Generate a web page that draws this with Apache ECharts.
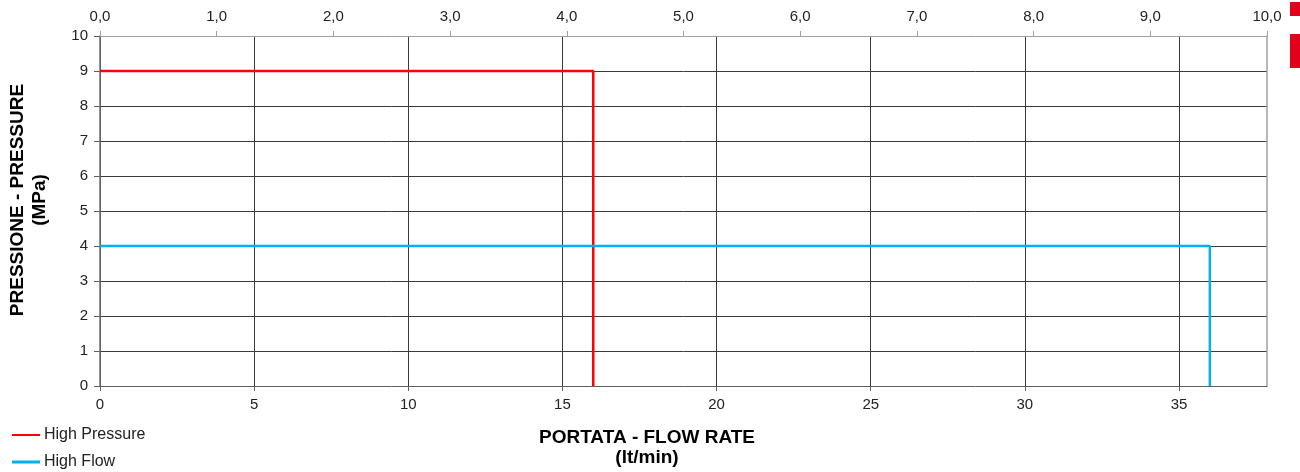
<!DOCTYPE html>
<html>
<head>
<meta charset="utf-8">
<script src="https://cdn.jsdelivr.net/npm/echarts@6/dist/echarts.min.js"></script>
<style>html,body{margin:0;padding:0;background:#fff;}#c{width:1300px;height:472px;}</style>
</head>
<body>
<div id="c"></div>
<script>
var seriesNames = ['High Pressure', 'High Flow'];
var highPressure = [[0, 9], [16, 9], [16, 0]];
var highFlow = [[0, 4], [36, 4], [36, 0]];
var flowMax = 37.854;       // 10 US gal/min in l/min
var galMax = 10;
var yTicks = [0,1,2,3,4,5,6,7,8,9,10];

var chart = echarts.init(document.getElementById('c'));
var font = 'Liberation Sans, Arial, sans-serif';
chart.setOption({
  animation: false,
  textStyle: { fontFamily: font },
  grid: { left: 100, right: 33, top: 36, bottom: 86, containLabel: false, outerBoundsMode: 'none' },
  title: {
    text: 'PORTATA - FLOW RATE\n(lt/min)',
    left: 642, top: 423,
    textAlign: 'center',
    textStyle: { fontFamily: font, fontSize: 19, fontWeight: 'bold', color: '#000', lineHeight: 20 }
  },
  legend: [
    {
      left: 12, top: 426, padding: 0,
      itemWidth: 28, itemHeight: 2, icon: 'rect', itemGap: 0,
      textStyle: { fontFamily: font, fontSize: 16, color: '#222', lineHeight: 18, padding: [0,0,0,-1] },
      data: [seriesNames[0]]
    },
    {
      left: 12, top: 453, padding: 0,
      itemWidth: 28, itemHeight: 3, icon: 'rect', itemGap: 0,
      textStyle: { fontFamily: font, fontSize: 16, color: '#222', lineHeight: 18, padding: [0,0,0,-1] },
      data: [seriesNames[1]]
    }
  ],
  xAxis: [
    {
      type: 'value', position: 'bottom', min: 0, max: flowMax, interval: 5,
      axisLine: { show: true, onZero: false, lineStyle: { color: '#606060', width: 1 } },
      axisTick: { show: true, length: 5, lineStyle: { color: '#606060' } },
      axisLabel: { fontFamily: font, fontSize: 15, color: '#222', margin: 11, showMaxLabel: false,
        formatter: function (v) { return (v % 5 === 0) ? String(v) : ''; } },
      splitLine: { show: true, showMaxLine: false, lineStyle: { color: '#3a3a3a', width: 1 } }
    },
    {
      type: 'value', position: 'top', min: 0, max: galMax, interval: 1,
      axisLine: { show: true, onZero: false, lineStyle: { color: '#a0a0a0', width: 1 } },
      axisTick: { show: true, length: 5, lineStyle: { color: '#a0a0a0' } },
      axisLabel: { fontFamily: font, fontSize: 15, color: '#222', margin: 12,
        formatter: function (v) { return v.toFixed(1).replace('.', ','); } },
      splitLine: { show: false }
    }
  ],
  yAxis: [
    {
      type: 'value', min: 0, max: 10, interval: 1,
      name: 'PRESSIONE - PRESSURE\n(MPa)',
      nameLocation: 'middle', nameGap: 49, nameRotate: 90,
      nameTextStyle: { fontFamily: font, fontSize: 19, fontWeight: 'bold', color: '#000', lineHeight: 22, padding: [0,0,0,22] },
      axisLine: { show: true, onZero: false, lineStyle: { color: '#707070', width: 1.5 } },
      axisTick: { show: true, length: 6, lineStyle: { color: '#606060' } },
      axisLabel: { fontFamily: font, fontSize: 15, color: '#222', margin: 12,
        formatter: function (v) { return yTicks.indexOf(v) >= 0 ? String(v) : ''; } },
      splitLine: { show: true, showMinLine: false, showMaxLine: false, lineStyle: { color: '#3a3a3a', width: 1 } }
    },
    {
      type: 'value', position: 'right', min: 0, max: 10, interval: 1,
      axisLine: { show: true, onZero: false, lineStyle: { color: '#a0a0a0', width: 1.5 } },
      axisTick: { show: false }, axisLabel: { show: false }, splitLine: { show: false }
    }
  ],
  graphic: [
    { type: 'rect', shape: { x: 1290, y: 2, width: 10, height: 14 }, style: { fill: '#e2001a' } },
    { type: 'rect', shape: { x: 1290, y: 34, width: 10, height: 34 }, style: { fill: '#e2001a' } }
  ],
  series: [
    { name: seriesNames[0], type: 'line', xAxisIndex: 0, yAxisIndex: 0, data: highPressure,
      symbol: 'none', lineStyle: { color: '#ff0000', width: 2.5 }, itemStyle: { color: '#ff0000' } },
    { name: seriesNames[1], type: 'line', xAxisIndex: 0, yAxisIndex: 0, data: highFlow,
      symbol: 'none', lineStyle: { color: '#00b0f0', width: 2.5 }, itemStyle: { color: '#00b0f0' } }
  ]
});
</script>
</body>
</html>
